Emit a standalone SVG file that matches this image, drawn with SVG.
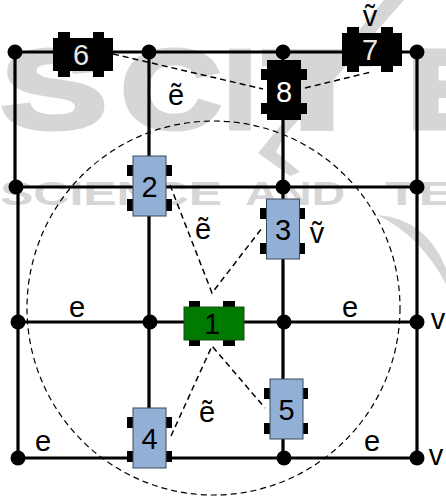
<svg xmlns="http://www.w3.org/2000/svg" width="446" height="498" viewBox="0 0 446 498">
<style>
text{font-family:"Liberation Sans",Arial,sans-serif}
.wm{fill:#d6d6d6;font-weight:bold}
.big{font-size:112px;stroke:#d6d6d6;stroke-width:5}
.small{font-size:34px}
.logo{fill:#d6d6d6}
.road{stroke:#000;stroke-width:3.2;fill:none}
.dash{stroke:#000;stroke-width:1.5;fill:none;stroke-dasharray:6 4}
.j{fill:#000}
.w{fill:#000}
.blue{fill:#92afd6;stroke:#3b4a5c;stroke-width:1}
.green{fill:#007a00;stroke:#1c4a1c;stroke-width:1}
.black{fill:#000}
.n{font-size:29px;text-anchor:middle}
.l{font-size:29px;text-anchor:middle;fill:#000}
</style>
<rect width="446" height="498" fill="#fff"/>
<g id="watermark">
<text class="wm big" x="1" y="128" textLength="106" lengthAdjust="spacingAndGlyphs">S</text>
<text class="wm big" x="121" y="128" textLength="100" lengthAdjust="spacingAndGlyphs">C</text>
<text class="wm big" x="224" y="128" textLength="32" lengthAdjust="spacingAndGlyphs">I</text>
<text class="wm big" x="264" y="128" textLength="106" lengthAdjust="spacingAndGlyphs">T</text>
<text class="wm big" x="407" y="128" textLength="90" lengthAdjust="spacingAndGlyphs">E</text>
<text class="wm small" x="0" y="205" textLength="222" lengthAdjust="spacingAndGlyphs">SCIENCE</text>
<text class="wm small" x="245" y="205" textLength="100" lengthAdjust="spacingAndGlyphs">AND</text>
<text class="wm small" x="385" y="205" textLength="70" lengthAdjust="spacingAndGlyphs">TE</text>
<polygon class="logo" points="384,0 404,0 285,135 276,152 300,172 290,176 258,153"/>
<path class="logo" d="M377 215Q425 218 446 268V284Q420 235 377 215Z"/>
</g>
<g id="connectors">
<path class="road" d="M15 52H417M15 187H417M18 322H417M18 458H417M15 52V187M18 187V458M149 52V458M283 52V458M417 52V458"/>
<ellipse class="dash" cx="213.500" cy="308" rx="186.500" ry="187" style="stroke-width:1.200"/>
<path class="dash" d="M113 54L263 89M305 88L371 72M170 185L212 293L262 228M171 436L212 346L265 408"/>
</g>
<g id="junctions">
<circle class="j" cx="15" cy="52" r="7.500"/><circle class="j" cx="149" cy="52" r="7.500"/><circle class="j" cx="283" cy="52" r="7.500"/><circle class="j" cx="417" cy="52" r="7.500"/>
<circle class="j" cx="16" cy="187" r="7.500"/><circle class="j" cx="283" cy="187" r="7.500"/><circle class="j" cx="417" cy="187" r="7.500"/>
<circle class="j" cx="18" cy="322" r="7.500"/><circle class="j" cx="150" cy="322" r="7.500"/><circle class="j" cx="284" cy="322" r="7.500"/><circle class="j" cx="417" cy="322" r="7.500"/>
<circle class="j" cx="18" cy="458" r="7.500"/><circle class="j" cx="284" cy="458" r="7.500"/><circle class="j" cx="417" cy="458" r="7.500"/>
</g>
<g id="car1"><rect class="w" x="189" y="301" width="11" height="45"/><rect class="w" x="223" y="301" width="12" height="45"/><rect class="green" x="184" y="307" width="60" height="33"/><text class="n" x="212" y="334">1</text></g>
<g id="car2"><rect class="w" x="127" y="165" width="45" height="11"/><rect class="w" x="127" y="199" width="45" height="12"/><rect class="blue" x="133" y="156" width="33" height="60"/><text class="n" x="149.500" y="197">2</text></g>
<g id="car3"><rect class="w" x="260" y="208" width="45" height="11"/><rect class="w" x="260" y="243" width="45" height="11"/><rect class="blue" x="266.500" y="199" width="33" height="60"/><text class="n" x="283" y="240">3</text></g>
<g id="car4"><rect class="w" x="127" y="417" width="45" height="11"/><rect class="w" x="127" y="451" width="45" height="11"/><rect class="blue" x="133" y="408" width="33" height="60"/><text class="n" x="149.500" y="449">4</text></g>
<g id="car5"><rect class="w" x="264" y="388" width="44" height="11"/><rect class="w" x="264" y="423" width="44" height="11"/><rect class="blue" x="270" y="379" width="33" height="60"/><text class="n" x="286.500" y="420">5</text></g>
<g id="car6"><rect class="w" x="58" y="32" width="12" height="45"/><rect class="w" x="93" y="32" width="11" height="45"/><rect class="black" x="53" y="38" width="60" height="33"/><text class="n" x="81" y="65" fill="#e8e8e8">6</text></g>
<g id="car7"><rect class="w" x="347" y="27" width="12" height="45"/><rect class="w" x="381" y="27" width="12" height="45"/><rect class="black" x="342" y="33" width="60" height="33"/><text class="n" x="370" y="60" fill="#e8e8e8">7</text></g>
<g id="car8"><rect class="w" x="261" y="69" width="46" height="11"/><rect class="w" x="261" y="103" width="46" height="11"/><rect class="black" x="267" y="60" width="34" height="60"/><text class="n" x="284" y="102" fill="#fff">8</text></g>
<g id="labels">
<text class="l" x="176" y="105">ẽ</text>
<text class="l" x="203" y="239">ẽ</text>
<text class="l" x="207" y="422">ẽ</text>
<text class="l" x="370" y="26">ṽ</text>
<text class="l" x="317" y="243">ṽ</text>
<text class="l" x="77" y="317">e</text>
<text class="l" x="350" y="317">e</text>
<text class="l" x="43" y="451">e</text>
<text class="l" x="372" y="451">e</text>
<text class="l" x="438" y="329">v</text>
<text class="l" x="436" y="465">v</text>
</g>
</svg>
